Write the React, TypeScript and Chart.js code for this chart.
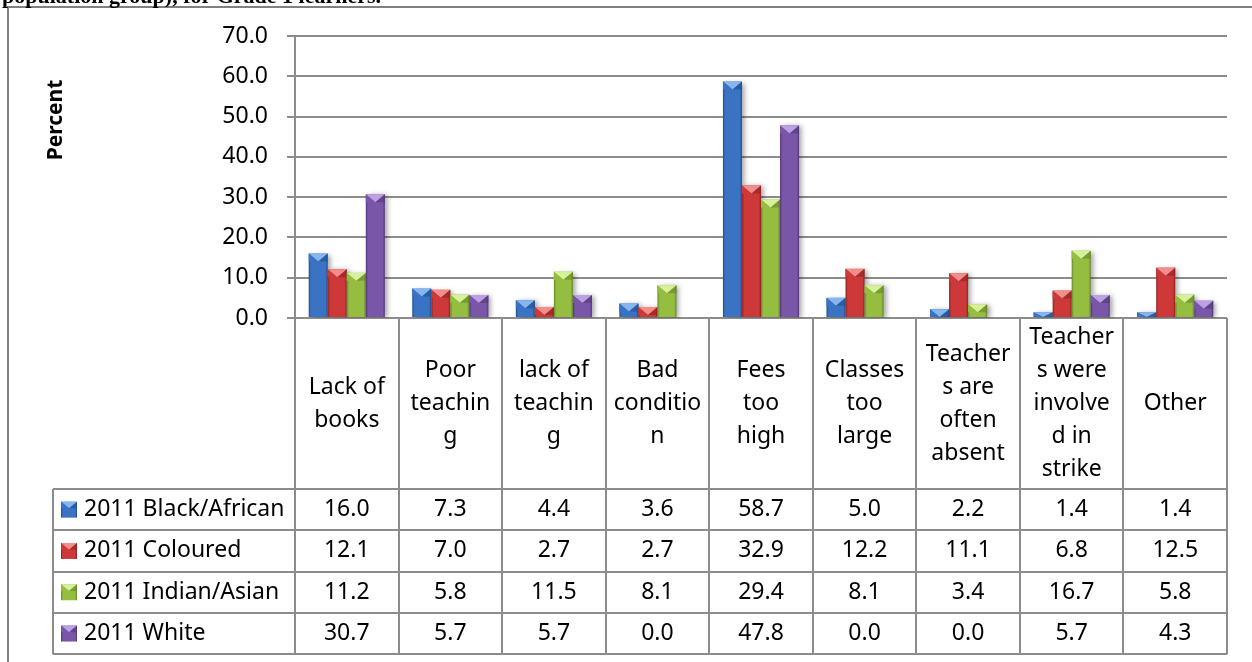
import React, { useEffect, useRef } from "react";
import { Chart, registerables } from "chart.js";
Chart.register(...registerables);

// ---------- data ----------
const categoryLines: string[][] = [
  ["Lack of", "books"],
  ["Poor", "teachin", "g"],
  ["lack of", "teachin", "g"],
  ["Bad", "conditio", "n"],
  ["Fees", "too", "high"],
  ["Classes", "too", "large"],
  ["Teacher", "s are", "often", "absent"],
  ["Teacher", "s were", "involve", "d in", "strike"],
  ["Other"],
];
const categories = categoryLines.map((l) => l.join(" "));
const seriesNames = ["2011 Black/African", "2011 Coloured", "2011 Indian/Asian", "2011 White"];
const blackAfrican = [16.0, 7.3, 4.4, 3.6, 58.7, 5.0, 2.2, 1.4, 1.4];
const coloured = [12.1, 7.0, 2.7, 2.7, 32.9, 12.2, 11.1, 6.8, 12.5];
const indianAsian = [11.2, 5.8, 11.5, 8.1, 29.4, 8.1, 3.4, 16.7, 5.8];
const white = [30.7, 5.7, 5.7, 0.0, 47.8, 0.0, 0.0, 5.7, 4.3];
const seriesValues = [blackAfrican, coloured, indianAsian, white];
const yTicks = [0, 10, 20, 30, 40, 50, 60, 70];
const yTitle = "Percent";
const headingText = "population group), for Grade 1 learners.";

// ---------- styles ----------
const PALETTE = [
  { base: "#3a72c4", light: "#86b6f0", dark: "#22508f" },
  { base: "#cd3938", light: "#f28d8b", dark: "#8e2322" },
  { base: "#95be40", light: "#d6f199", dark: "#66862a" },
  { base: "#7a56a9", light: "#bca0e4", dark: "#503876" },
];
const FONT = "'Noto Sans', 'DejaVu Sans', sans-serif";
const GRID = "#8c8c8c";

function drawBevelBar(ctx: CanvasRenderingContext2D, left: number, top: number, w: number, h: number, pal: { base: string; light: string; dark: string }, shadow: boolean) {
  if (h <= 0.5 || w <= 0) return;
  ctx.save();
  if (shadow) {
    ctx.shadowColor = "rgba(0,0,0,0.35)";
    ctx.shadowBlur = 5;
    ctx.shadowOffsetX = 3;
    ctx.shadowOffsetY = 1;
  }
  const g = ctx.createLinearGradient(left, 0, left + w, 0);
  g.addColorStop(0, pal.dark);
  g.addColorStop(0.12, pal.base);
  g.addColorStop(0.88, pal.base);
  g.addColorStop(1, pal.dark);
  ctx.fillStyle = g;
  ctx.fillRect(left, top, w, h);
  ctx.restore();
  const cap = Math.min(w * 0.42, 8, h);
  ctx.save();
  ctx.beginPath();
  ctx.moveTo(left, top);
  ctx.lineTo(left + w, top);
  ctx.lineTo(left + w / 2, top + cap);
  ctx.closePath();
  ctx.fillStyle = pal.light;
  ctx.fill();
  ctx.beginPath();
  ctx.moveTo(left, top);
  ctx.lineTo(left + w / 2, top + cap);
  ctx.lineTo(left, top + cap);
  ctx.closePath();
  ctx.fillStyle = pal.base;
  ctx.fill();
  ctx.beginPath();
  ctx.moveTo(left + w, top);
  ctx.lineTo(left + w / 2, top + cap);
  ctx.lineTo(left + w, top + cap);
  ctx.closePath();
  ctx.fillStyle = pal.dark;
  ctx.globalAlpha = 0.6;
  ctx.fill();
  ctx.restore();
}

const barPlugin = {
  id: "bevelBars",
  afterDatasetsDraw(chart: any) {
    const ctx = chart.ctx as CanvasRenderingContext2D;
    ctx.save();
    ctx.beginPath();
    ctx.rect(chart.chartArea.left, 0, chart.chartArea.right - chart.chartArea.left + 10, chart.chartArea.bottom);
    ctx.clip();
    chart.data.datasets.forEach((_: any, di: number) => {
      const meta = chart.getDatasetMeta(di);
      meta.data.forEach((el: any) => {
        const p = el.getProps(["x", "y", "base", "width"], true);
        const top = Math.min(p.y, p.base);
        const h = Math.abs(p.base - p.y);
        drawBevelBar(ctx, p.x - p.width / 2, top, p.width, h, PALETTE[di], true);
      });
    });
    ctx.restore();
  },
};

const tablePlugin = {
  id: "dataTable",
  afterDraw(chart: any) {
    const ctx = chart.ctx as CanvasRenderingContext2D;
    const area = chart.chartArea;
    const x = chart.scales.x;
    const n = categories.length;
    const step = (x.getPixelForValue(n - 1) - x.getPixelForValue(0)) / (n - 1);
    const headerBottom = area.bottom + 171;
    const rowH = 41.3;
    const tableLeft = 53;
    const tableBottom = headerBottom + rowH * seriesNames.length;

    ctx.save();
    ctx.strokeStyle = "#808080";
    ctx.lineWidth = 2;
    ctx.beginPath();
    ctx.moveTo(8, 662);
    ctx.lineTo(8, 7);
    ctx.lineTo(1252, 7);
    ctx.stroke();

    ctx.fillStyle = "#000";
    ctx.font = "bold 22px 'Liberation Serif', serif";
    ctx.textAlign = "left";
    ctx.textBaseline = "alphabetic";
    ctx.fillText(headingText, 2, 3);

    ctx.save();
    ctx.translate(56, 120);
    ctx.rotate(-Math.PI / 2);
    ctx.font = `bold 21px ${FONT}`;
    ctx.textAlign = "center";
    ctx.textBaseline = "middle";
    ctx.fillText(yTitle, 0, 0);
    ctx.restore();

    ctx.strokeStyle = GRID;
    ctx.lineWidth = 2;
    ctx.beginPath();
    for (let i = 0; i <= n; i++) {
      const bx = Math.round(x.getPixelForValue(i) - step / 2);
      ctx.moveTo(bx, area.bottom);
      ctx.lineTo(bx, tableBottom);
    }
    for (let r = 0; r <= seriesNames.length; r++) {
      const yy = Math.round(headerBottom + r * rowH);
      ctx.moveTo(tableLeft, yy);
      ctx.lineTo(area.right, yy);
    }
    ctx.moveTo(tableLeft, headerBottom);
    ctx.lineTo(tableLeft, tableBottom);
    ctx.stroke();

    ctx.fillStyle = "#000";
    ctx.font = `23px ${FONT}`;
    ctx.textAlign = "center";
    ctx.textBaseline = "middle";
    const lh = 33;
    const hc = (area.bottom + headerBottom) / 2;
    categoryLines.forEach((lines, i) => {
      const cx = x.getPixelForValue(i);
      const y0 = hc - ((lines.length - 1) * lh) / 2;
      lines.forEach((t, k) => ctx.fillText(t, cx, y0 + k * lh));
    });

    seriesNames.forEach((name, r) => {
      const cy = headerBottom + r * rowH + rowH / 2;
      drawBevelBar(ctx, 61, cy - 8, 16, 16, PALETTE[r], false);
      ctx.fillStyle = "#000";
      ctx.textAlign = "left";
      ctx.fillText(name, 84, cy);
      ctx.textAlign = "center";
      seriesValues[r].forEach((v, i) => {
        ctx.fillText(v.toFixed(1), x.getPixelForValue(i), cy);
      });
    });
    ctx.restore();
  },
};

export default function App() {
  const ref = useRef<HTMLCanvasElement>(null);
  useEffect(() => {
    document.body.style.margin = "0";
    const chart = new Chart(ref.current!, {
      type: "bar",
      data: {
        labels: categories,
        datasets: seriesNames.map((name, i) => ({
          label: name,
          data: seriesValues[i],
          backgroundColor: "rgba(0,0,0,0)",
          borderWidth: 0,
          barPercentage: 1,
          categoryPercentage: 0.735,
        })),
      },
      options: {
        responsive: false,
        animation: false,
        devicePixelRatio: 1,
        layout: { padding: { left: 40, right: 25, top: 36, bottom: 344 } },
        plugins: { legend: { display: false }, tooltip: { enabled: false }, title: { display: false } },
        scales: {
          x: { display: false, offset: true },
          y: {
            min: 0,
            max: 70,
            afterBuildTicks: (s: any) => {
              s.ticks = yTicks.map((v) => ({ value: v }));
            },
            afterFit: (s: any) => {
              s.width = 255;
            },
            ticks: {
              color: "#000",
              padding: 19,
              font: { family: FONT, size: 23 },
              callback: (v: any) => Number(v).toFixed(1),
            },
            grid: { color: GRID, lineWidth: 2, tickLength: 8, drawTicks: true },
            border: { color: GRID, width: 2 },
          },
        },
      },
      plugins: [barPlugin, tablePlugin],
    });
    return () => chart.destroy();
  }, []);
  return (
    <div style={{ position: "relative", width: 1252, height: 662, overflow: "hidden", background: "#fff" }}>
      <canvas ref={ref} width={1252} height={662} style={{ position: "absolute", left: 0, top: 0, width: 1252, height: 662 }} />
    </div>
  );
}
